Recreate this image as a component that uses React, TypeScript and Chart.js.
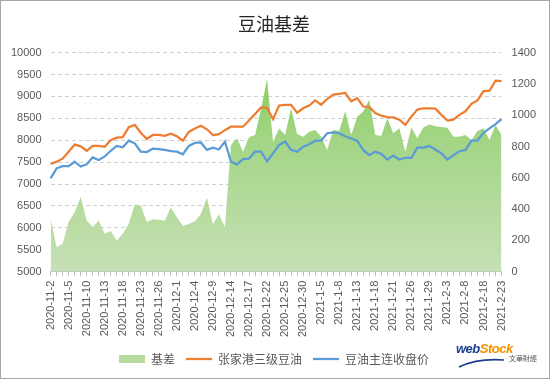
import React, { useEffect, useRef } from "react";
import { Chart, registerables } from "chart.js";

Chart.register(...registerables);

const dates = [
  "2020-11-2","2020-11-3","2020-11-4","2020-11-5","2020-11-6","2020-11-9","2020-11-10","2020-11-11","2020-11-12","2020-11-13",
  "2020-11-16","2020-11-17","2020-11-18","2020-11-19","2020-11-20","2020-11-23","2020-11-24","2020-11-25","2020-11-26","2020-11-27",
  "2020-11-30","2020-12-1","2020-12-2","2020-12-3","2020-12-4","2020-12-7","2020-12-8","2020-12-9","2020-12-10","2020-12-11",
  "2020-12-14","2020-12-15","2020-12-16","2020-12-17","2020-12-18","2020-12-21","2020-12-22","2020-12-23","2020-12-24","2020-12-25",
  "2020-12-28","2020-12-29","2020-12-30","2020-12-31","2021-1-4","2021-1-5","2021-1-6","2021-1-7","2021-1-8","2021-1-11",
  "2021-1-12","2021-1-13","2021-1-14","2021-1-15","2021-1-18","2021-1-19","2021-1-20","2021-1-21","2021-1-22","2021-1-25",
  "2021-1-26","2021-1-27","2021-1-28","2021-1-29","2021-2-1","2021-2-2","2021-2-3","2021-2-4","2021-2-5","2021-2-8",
  "2021-2-9","2021-2-10","2021-2-18","2021-2-19","2021-2-22","2021-2-23",
];

// 基差 (right axis)
const basis = [
  342,157,178,317,380,478,328,285,328,242,
  260,200,242,307,429,422,317,335,332,326,
  412,348,294,305,322,369,472,305,365,288,
  809,852,766,859,874,1040,1230,830,915,873,
  1044,880,862,894,905,862,777,905,900,1025,
  873,990,1023,1098,873,867,980,884,916,766,
  922,852,922,940,930,925,920,862,862,873,
  841,899,916,841,937,873,
];

// 张家港三级豆油 (left axis)
const spotPrice = [
  7460,7510,7580,7740,7900,7860,7760,7870,7870,7850,
  8000,8060,8070,8300,8350,8170,8030,8120,8120,8100,
  8150,8090,7990,8190,8270,8330,8250,8120,8140,8230,
  8310,8310,8310,8450,8600,8750,8740,8480,8790,8810,
  8810,8630,8730,8790,8910,8810,8940,9040,9060,9080,
  8890,8960,8770,8760,8620,8560,8530,8520,8470,8350,
  8540,8700,8730,8730,8720,8580,8450,8470,8580,8660,
  8830,8910,9120,9130,9360,9350,
];

// 豆油主连收盘价 (left axis)
const futuresClose = [
  7130,7360,7410,7410,7510,7400,7450,7610,7550,7630,
  7760,7870,7840,7990,7930,7740,7730,7810,7800,7780,
  7750,7740,7680,7870,7940,7950,7780,7830,7790,7970,
  7510,7450,7570,7580,7740,7740,7520,7700,7890,7970,
  7780,7740,7850,7910,7990,7990,8160,8180,8160,8090,
  8040,7990,7780,7660,7740,7690,7560,7650,7560,7600,
  7600,7830,7830,7870,7790,7700,7560,7660,7750,7780,
  7990,7990,8170,8270,8370,8480,
];

const seriesNames = ["基差", "张家港三级豆油", "豆油主连收盘价"];
const FONT = '"Noto Sans CJK SC", "Liberation Sans", sans-serif';
const NUMFONT = '"Liberation Sans", "DejaVu Sans", sans-serif';

export default function App() {
  const ref = useRef<HTMLCanvasElement | null>(null);

  useEffect(() => {
    const canvas = ref.current;
    if (!canvas) return;
    const areaFill = (ctx: any) => {
      const chart = ctx.chart;
      const area = chart.chartArea;
      if (!area) return "#b5dc9c";
      const g = chart.ctx.createLinearGradient(0, area.top, 0, area.bottom);
      g.addColorStop(0, "#84cc55");
      g.addColorStop(0.45, "#a6d68a");
      g.addColorStop(1, "#c6e0b5");
      return g;
    };
    const chart = new Chart(canvas, {
      type: "line",
      data: {
        labels: dates,
        datasets: [
          {
            label: seriesNames[0],
            data: basis,
            yAxisID: "y1",
            fill: "origin",
            backgroundColor: areaFill,
            borderWidth: 0,
            borderColor: "rgba(0,0,0,0)",
            pointRadius: 0,
            tension: 0,
            order: 3,
            pointStyle: "rect",
          },
          {
            label: seriesNames[1],
            data: spotPrice,
            yAxisID: "y",
            borderColor: "#ED7D31",
            backgroundColor: "#ED7D31",
            borderWidth: 2.25,
            pointRadius: 0,
            tension: 0,
            fill: false,
            order: 2,
            pointStyle: "line",
          },
          {
            label: seriesNames[2],
            data: futuresClose,
            yAxisID: "y",
            borderColor: "#5B9BD5",
            backgroundColor: "#5B9BD5",
            borderWidth: 2.25,
            pointRadius: 0,
            tension: 0,
            fill: false,
            order: 1,
            pointStyle: "line",
          },
        ],
      },
      options: {
        animation: false,
        responsive: false,
        maintainAspectRatio: false,
        layout: { padding: { left: 2, right: 4, top: 0, bottom: 4 } },
        plugins: {
          tooltip: { enabled: false },
          title: {
            display: true,
            text: "豆油基差",
            color: "#262626",
            font: { family: FONT, size: 18, weight: "normal" },
            padding: { top: 13, bottom: 18 },
          },
          legend: {
            position: "bottom",
            labels: {
              usePointStyle: true,
              pointStyleWidth: 26,
              boxHeight: 8,
              color: "#595959",
              font: { family: FONT, size: 12 },
              padding: 11,
              sort: (a: any, b: any) => a.datasetIndex - b.datasetIndex,
              generateLabels: (ch: any) =>
                ch.data.datasets.map((ds: any, i: number) => ({
                  text: ds.label,
                  datasetIndex: i,
                  fillStyle: i === 0 ? "#b5dc9c" : ds.borderColor,
                  strokeStyle: i === 0 ? "#b5dc9c" : ds.borderColor,
                  lineWidth: i === 0 ? 0 : 2.25,
                  pointStyle: i === 0 ? "rect" : "line",
                  hidden: false,
                  fontColor: "#595959",
                })),
            },
          },
        },
        scales: {
          x: {
            offset: false,
            grid: {
              display: true,
              drawOnChartArea: false,
              drawTicks: true,
              tickLength: 4,
              color: "#bfbfbf",
            },
            border: { display: true, color: "#bfbfbf" },
            ticks: {
              autoSkip: false,
              maxRotation: 90,
              minRotation: 90,
              padding: 5,
              color: "#595959",
              font: { family: NUMFONT, size: 11 },
              callback: (_v: any, i: number) => (i % 3 === 0 ? dates[i] : ""),
            },
          },
          y: {
            position: "left",
            min: 5000,
            max: 10000,
            ticks: {
              stepSize: 500,
              color: "#595959",
              padding: 9,
              font: { family: NUMFONT, size: 11 },
              callback: (v: any) => String(v),
            },
            grid: { color: "#d0d0d0", drawTicks: false, lineWidth: 1 },
            border: { display: false, dash: [4, 3] },
          },
          y1: {
            position: "right",
            min: 0,
            max: 1400,
            ticks: {
              stepSize: 200,
              color: "#595959",
              padding: 10,
              font: { family: NUMFONT, size: 11 },
              callback: (v: any) => String(v),
            },
            grid: { drawOnChartArea: false, drawTicks: false },
            border: { display: false },
          },
        },
      },
    } as any);
    return () => chart.destroy();
  }, []);

  return (
    <div style={{ position: "absolute", left: 0, top: 0, width: 550, height: 379, background: "#fff" }}>
      <canvas ref={ref} width={550} height={379} style={{ position: "absolute", left: 0, top: 0 }} />
      <div
        style={{
          position: "absolute",
          left: 0,
          top: 0,
          width: 550,
          height: 379,
          boxSizing: "border-box",
          border: "1px solid #a6a6a6",
          pointerEvents: "none",
        }}
      />
      <div style={{ position: "absolute", left: 456, top: 341, width: 90, height: 30, pointerEvents: "none" }}>
        <span
          style={{
            position: "absolute",
            left: 0,
            top: 0,
            fontFamily: '"Liberation Sans", sans-serif',
            fontWeight: "bold",
            fontStyle: "italic",
            fontSize: 13,
            letterSpacing: -0.5,
          }}
        >
          <span style={{ color: "#1d3f8f" }}>web</span>
          <span style={{ color: "#f29100" }}>Stock</span>
        </span>
        <svg width="50" height="12" style={{ position: "absolute", left: 2, top: 16 }}>
          <path d="M1 10 Q 20 1 46 3" stroke="#1d3f8f" strokeWidth="1.6" fill="none" />
        </svg>
        <span
          style={{
            position: "absolute",
            left: 53,
            top: 12,
            fontFamily: FONT,
            fontSize: 7,
            color: "#555",
            whiteSpace: "nowrap",
          }}
        >
          文華財經
        </span>
      </div>
    </div>
  );
}
